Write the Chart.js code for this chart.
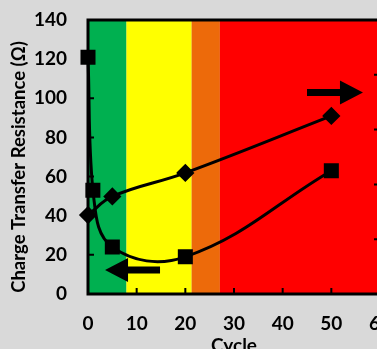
<!DOCTYPE html>
<html>
<head>
<meta charset="utf-8">
<script src="https://cdn.jsdelivr.net/npm/chart.js@4.4.1/dist/chart.umd.min.js"></script>
<style>
  html, body { margin: 0; padding: 0; background: #d9d9d9; overflow: hidden; width: 377px; height: 349px; }
  canvas { display: block; }
</style>
</head>
<body>
<canvas id="chart" width="400" height="365"></canvas>
<script>
// Charge transfer resistance (left axis, squares)
const rctCycles = [0, 1, 5, 20, 50];
const rctValues = [121, 53, 24, 19, 63];

// Second series (right axis, diamonds)
const rightCycles = [0, 5, 20, 50];
const rightValues = [1.44, 1.78, 2.21, 3.25];

// Colored cycle regions
const bandEdges = [0, 7.9, 21.3, 27.1, 60];
const bandColors = ["#00b050", "#ffff00", "#ed6a0a", "#ff0000"];

const yTitle = "Charge Transfer Resistance (Ω)";
const FONT = "Lato, 'Liberation Sans', sans-serif";

const bgPlugin = {
  id: "bands",
  beforeDatasetsDraw(chart) {
    const { ctx, chartArea: a, scales } = chart;
    const x = scales.x;
    ctx.save();
    for (let i = 0; i < bandColors.length; i++) {
      const x0 = x.getPixelForValue(bandEdges[i]);
      const x1 = x.getPixelForValue(bandEdges[i + 1]);
      ctx.fillStyle = bandColors[i];
      ctx.fillRect(x0, a.top, x1 - x0, a.bottom - a.top);
    }
    // inside tick marks
    ctx.strokeStyle = "#000";
    ctx.lineWidth = 2;
    ctx.beginPath();
    scales.y.ticks.forEach(t => {
      const py = scales.y.getPixelForValue(t.value);
      ctx.moveTo(a.left, py); ctx.lineTo(a.left + 6, py);
    });
    scales.y1.ticks.forEach(t => {
      const py = scales.y1.getPixelForValue(t.value);
      ctx.moveTo(a.right, py); ctx.lineTo(a.right - 6, py);
    });
    x.ticks.forEach(t => {
      const px = x.getPixelForValue(t.value);
      ctx.moveTo(px, a.bottom); ctx.lineTo(px, a.bottom - 6);
    });
    ctx.stroke();
    // frame
    ctx.lineWidth = 3;
    ctx.strokeRect(a.left, a.top, a.right - a.left, a.bottom - a.top);
    ctx.restore();
  },
  afterDatasetsDraw(chart) {
    const { ctx, scales, chartArea: a } = chart;
    // arrows pointing to the axis each series belongs to
    const arrows = [
      { from: [14.8, 12.3], to: [3.5, 12.3] },
      { from: [45, 103], to: [56.5, 103] }
    ];
    ctx.save();
    ctx.fillStyle = "#000";
    arrows.forEach(ar => {
      const x0 = scales.x.getPixelForValue(ar.from[0]);
      const x1 = scales.x.getPixelForValue(ar.to[0]);
      const py = scales.y.getPixelForValue(ar.from[1]);
      const dir = Math.sign(x1 - x0);
      const head = 23, half = 12, bar = 3.5;
      const hx = x1 - dir * head;
      ctx.beginPath();
      ctx.moveTo(x0, py - bar);
      ctx.lineTo(hx, py - bar);
      ctx.lineTo(hx, py - half);
      ctx.lineTo(x1, py);
      ctx.lineTo(hx, py + half);
      ctx.lineTo(hx, py + bar);
      ctx.lineTo(x0, py + bar);
      ctx.closePath();
      ctx.fill();
    });
    // left axis title
    ctx.translate(19, (a.top + a.bottom) / 2 + 10);
    ctx.rotate(-Math.PI / 2);
    ctx.font = "bold 18.5px " + FONT;
    ctx.textAlign = "center";
    ctx.textBaseline = "middle";
    ctx.fillText(yTitle, 0, 0);
    ctx.restore();
  }
};

new Chart(document.getElementById("chart"), {
  type: "line",
  data: {
    datasets: [
      {
        label: "Rct",
        data: rctCycles.map((c, i) => ({ x: c, y: rctValues[i] })),
        yAxisID: "y",
        borderColor: "#000",
        backgroundColor: "#000",
        borderWidth: 3,
        pointStyle: "rect",
        pointRadius: 8.5,
        tension: 0.4,
        clip: false
      },
      {
        label: "Right",
        data: rightCycles.map((c, i) => ({ x: c, y: rightValues[i] })),
        yAxisID: "y1",
        borderColor: "#000",
        backgroundColor: "#000",
        borderWidth: 3,
        pointStyle: "rectRot",
        pointRadius: 7,
        tension: 0.4,
        clip: false
      }
    ]
  },
  options: {
    responsive: false,
    animation: false,
    devicePixelRatio: 1,
    layout: { padding: { top: 20, left: 0, right: 0, bottom: 0 } },
    plugins: { legend: { display: false }, tooltip: { enabled: false } },
    scales: {
      x: {
        type: "linear",
        min: 0, max: 60,
        ticks: { stepSize: 10, color: "#000", padding: 18, font: { family: FONT, size: 19, weight: "bold" } },
        grid: { display: false, drawTicks: false },
        border: { display: false },
        title: { display: true, text: "Cycle", color: "#000", padding: { top: 0, bottom: 8 }, font: { family: FONT, size: 19, weight: "bold" } },
        afterFit: s => { s.height = 71; s.paddingLeft = 0; s.paddingRight = 0; }
      },
      y: {
        position: "left",
        min: 0, max: 140,
        ticks: { stepSize: 20, color: "#000", padding: 21, font: { family: FONT, size: 19, weight: "bold" } },
        grid: { display: false, drawTicks: false },
        border: { display: false },
        afterFit: s => { s.width = 88; s.paddingTop = 0; s.paddingBottom = 0; }
      },
      y1: {
        position: "right",
        min: 0, max: 5,
        ticks: { stepSize: 1, display: false },
        grid: { display: false, drawTicks: false },
        border: { display: false },
        afterFit: s => { s.width = 20; }
      }
    }
  },
  plugins: [bgPlugin]
});
</script>
</body>
</html>
